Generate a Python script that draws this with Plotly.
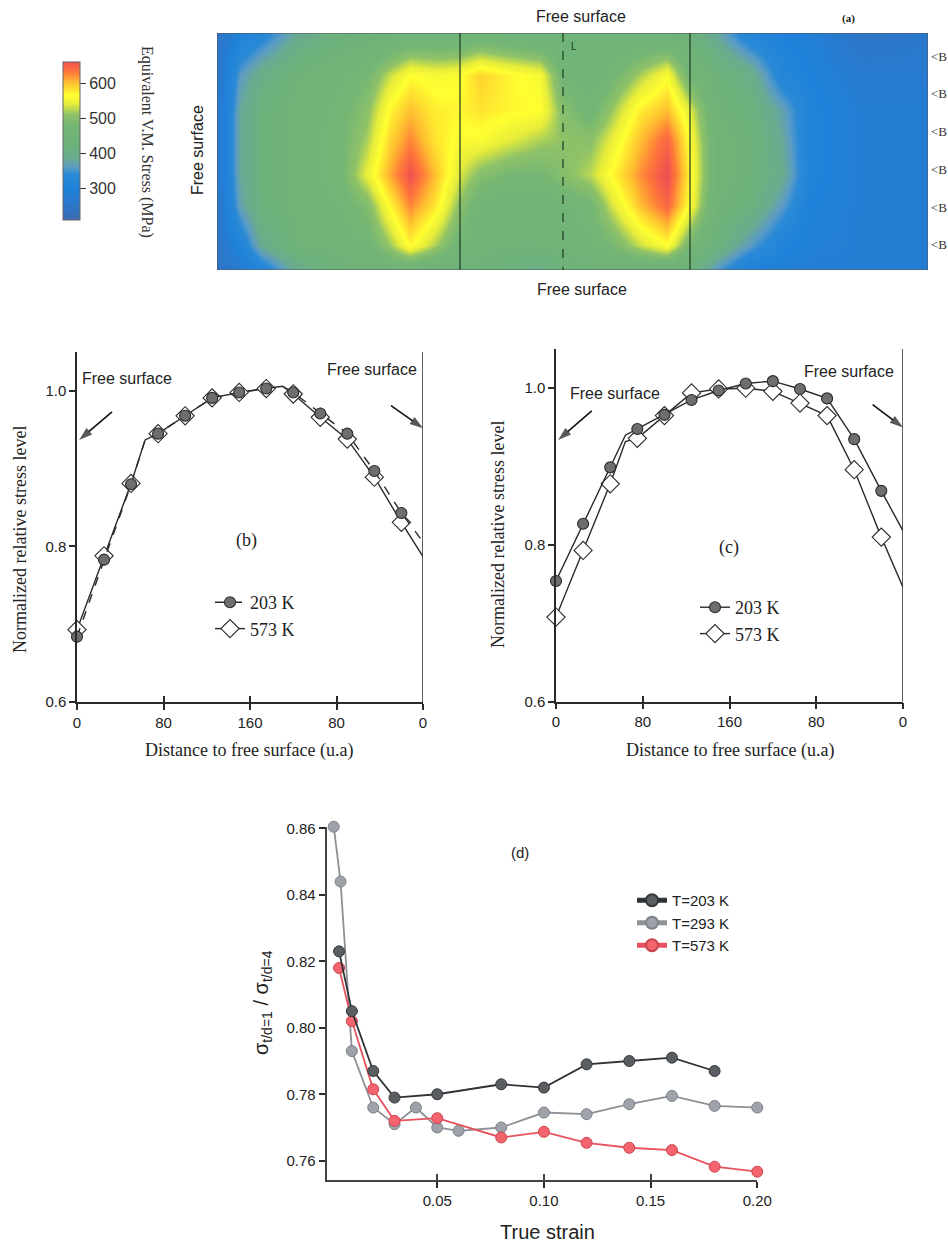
import plotly.graph_objects as go

W, H = 948, 1247
SANS = "Liberation Sans"
SERIF = "Liberation Serif"


def fx(p):
    return p / W


def fy(p):
    return 1 - p / H


# ---------------- Panel (a): stress map ----------------
heat_x = [2, 23, 45, 83, 123, 150, 173, 193, 218, 241, 263, 293, 323, 346, 373,
          393, 423, 450, 473, 500, 533, 565, 593, 643, 709]
heat_y = [3, 42, 77, 107, 142, 172, 212, 235]
heat_z = [
    [250, 300, 330, 390, 420, 430, 440, 450, 450, 450, 460, 450, 440, 440, 440, 440, 440, 440, 430, 380, 320, 300, 290, 250, 260],
    [260, 360, 400, 440, 460, 480, 530, 565, 555, 560, 590, 570, 555, 470, 450, 470, 520, 560, 470, 430, 400, 320, 300, 270, 270],
    [270, 380, 420, 450, 470, 505, 570, 600, 575, 570, 580, 570, 565, 500, 470, 510, 575, 600, 540, 440, 420, 370, 310, 280, 280],
    [270, 380, 420, 450, 475, 520, 590, 625, 580, 560, 560, 540, 520, 510, 505, 540, 600, 645, 560, 450, 430, 380, 310, 280, 280],
    [270, 380, 420, 450, 475, 545, 610, 660, 600, 540, 500, 480, 480, 500, 525, 565, 620, 665, 570, 450, 430, 390, 310, 280, 280],
    [260, 370, 420, 450, 465, 495, 570, 625, 580, 510, 460, 450, 450, 460, 475, 530, 600, 645, 560, 440, 420, 360, 300, 280, 280],
    [250, 310, 390, 440, 450, 465, 515, 570, 520, 470, 450, 440, 440, 450, 460, 480, 530, 565, 480, 420, 360, 310, 290, 280, 280],
    [250, 270, 320, 400, 430, 440, 450, 450, 440, 430, 430, 420, 400, 430, 430, 440, 440, 440, 420, 360, 300, 290, 280, 280, 280],
]
stress_min, stress_max = 210, 660
cbar_ticks = [300, 400, 500, 600]
section_x = [243, 346, 473]
section_dash = ["solid", "dash", "solid"]
bmark_y = [24, 61, 98, 136, 174, 211]

stress_colors = [
    [0.000, "#3a6ab0"], [0.111, "#2a78cc"], [0.200, "#1f82da"], [0.289, "#2b8ad6"],
    [0.333, "#5c9cc4"], [0.389, "#6aab90"], [0.467, "#6cb17c"], [0.600, "#74b674"],
    [0.667, "#8fc268"], [0.733, "#e6ec3a"], [0.789, "#ffff30"], [0.867, "#ffc030"],
    [0.933, "#ff7a3a"], [1.000, "#f05050"],
]

# ---------------- Panels (b) and (c) ----------------
dist_ticks = [0, 80, 160, 240, 320]
dist_labels = ["0", "80", "160", "80", "0"]
level_ticks = [0.6, 0.8, 1.0]
level_labels = ["0.6", "0.8", "1.0"]

b_u = [0, 25, 50, 75, 100, 125, 150, 175, 200, 225, 250, 275, 300]
b_203 = [0.684, 0.783, 0.880, 0.945, 0.968, 0.991, 0.998, 1.003, 0.998, 0.971, 0.945, 0.897, 0.843]
b_573 = [0.693, 0.788, 0.881, 0.945, 0.968, 0.991, 0.998, 1.003, 0.996, 0.966, 0.938, 0.889, 0.831]
b_line_u = [0, 25, 50, 63, 75, 100, 125, 150, 175, 190, 200, 225, 250, 275, 300, 320]
b_line_203 = [0.684, 0.783, 0.880, 0.937, 0.945, 0.968, 0.991, 0.998, 1.003, 1.006, 0.998, 0.971, 0.945, 0.897, 0.843, 0.806]
b_line_573 = [0.693, 0.788, 0.881, 0.937, 0.945, 0.968, 0.991, 0.998, 1.003, 1.006, 0.996, 0.966, 0.938, 0.889, 0.831, 0.787]

c_u = [0, 25, 50, 75, 100, 125, 150, 175, 200, 225, 250, 275, 300]
c_203 = [0.754, 0.827, 0.899, 0.948, 0.966, 0.985, 0.997, 1.006, 1.009, 0.999, 0.987, 0.935, 0.869]
c_573 = [0.708, 0.793, 0.878, 0.936, 0.965, 0.994, 0.999, 1.000, 0.996, 0.981, 0.965, 0.896, 0.810]
c_line_u = [0, 25, 50, 64, 75, 100, 125, 150, 175, 200, 225, 250, 275, 300, 320]
c_line_203 = [0.754, 0.827, 0.899, 0.940, 0.948, 0.966, 0.985, 0.997, 1.006, 1.009, 0.999, 0.987, 0.935, 0.869, 0.818]
c_line_573 = [0.708, 0.793, 0.878, 0.932, 0.936, 0.965, 0.994, 0.999, 1.000, 0.996, 0.981, 0.965, 0.896, 0.810, 0.746]

# "free surface" pointer arrows (tail -> head) in the (b)/(c) data units
arrow_b_u = [[32.4, 2.0], [290.4, 320.0]]
arrow_b_v = [[0.973, 0.937], [0.981, 0.952]]
arrow_c_u = [[33.0, 2.0], [292.0, 320.0]]
arrow_c_v = [[0.971, 0.934], [0.979, 0.950]]

# ---------------- Panel (d) ----------------
d_x_203 = [0.004, 0.010, 0.020, 0.030, 0.050, 0.080, 0.100, 0.120, 0.140, 0.160, 0.180]
d_y_203 = [0.823, 0.805, 0.787, 0.779, 0.780, 0.783, 0.782, 0.789, 0.790, 0.791, 0.787]
d_x_293 = [0.0015, 0.0047, 0.010, 0.020, 0.030, 0.040, 0.050, 0.060, 0.080, 0.100, 0.120, 0.140, 0.160, 0.180, 0.200]
d_y_293 = [0.8605, 0.844, 0.793, 0.776, 0.771, 0.776, 0.770, 0.769, 0.770, 0.7745, 0.774, 0.777, 0.7795, 0.7765, 0.776]
d_x_573 = [0.004, 0.010, 0.020, 0.030, 0.050, 0.080, 0.100, 0.120, 0.140, 0.160, 0.180, 0.200]
d_y_573 = [0.818, 0.802, 0.7815, 0.772, 0.7728, 0.767, 0.7687, 0.7654, 0.7639, 0.7632, 0.7582, 0.7567]
strain_ticks = [0.05, 0.10, 0.15, 0.20]
ratio_ticks = [0.76, 0.78, 0.80, 0.82, 0.84, 0.86]

fig = go.Figure()

# ---- heatmap ----
fig.add_trace(go.Heatmap(
    x=heat_x, y=heat_y, z=heat_z, zsmooth="best", zmin=stress_min, zmax=stress_max,
    colorscale=stress_colors, xaxis="x", yaxis="y", hoverinfo="skip",
    colorbar=dict(x=fx(63), xanchor="left", y=fy(62), yanchor="top",
                  len=158 / H, lenmode="fraction", thickness=17, thicknessmode="pixels",
                  outlinewidth=1, outlinecolor="#666", ticks="outside", ticklen=6,
                  tickcolor="#333", tickvals=cbar_ticks, xpad=0, ypad=0,
                  tickfont=dict(family=SANS, size=16, color="#333")),
))

INK = "#2a2a2a"


def add_profile(xa, ya, line_u, line_v, mu, mv, dash, symbol, fill, size, legend, name):
    fig.add_trace(go.Scatter(x=line_u, y=line_v, mode="lines", xaxis=xa, yaxis=ya,
                             line=dict(color=INK, width=1.4, dash=dash),
                             showlegend=False, hoverinfo="skip", cliponaxis=False))
    fig.add_trace(go.Scatter(x=mu, y=mv, mode="markers", xaxis=xa, yaxis=ya,
                             marker=dict(symbol=symbol, size=size, color=fill,
                                         line=dict(color=INK, width=1.1)),
                             showlegend=False, hoverinfo="skip", cliponaxis=False))
    fig.add_trace(go.Scatter(x=[None], y=[None], mode="lines+markers", xaxis=xa, yaxis=ya,
                             line=dict(color=INK, width=1.4, dash=dash),
                             marker=dict(symbol=symbol, size=size, color=fill,
                                         line=dict(color=INK, width=1.1)),
                             name=name, legend=legend, showlegend=True))


def add_arrows(xa, ya, us, vs):
    for u, v in zip(us, vs):
        fig.add_trace(go.Scatter(x=u, y=v, mode="lines+markers", xaxis=xa, yaxis=ya,
                                 line=dict(color="#111", width=1.6),
                                 marker=dict(symbol="arrow", size=[0, 14], angleref="previous",
                                             color="#111", line=dict(width=0)),
                                 showlegend=False, hoverinfo="skip", cliponaxis=False))


# panel b: 573 K under 203 K
add_profile("x2", "y2", b_line_u, b_line_573, b_u, b_573, "solid", "diamond", "white", 14, "legend2", "573 K")
add_profile("x2", "y2", b_line_u, b_line_203, b_u, b_203, "dash", "circle", "#6e6e6e", 11, "legend2", "203 K")
add_arrows("x2", "y2", arrow_b_u, arrow_b_v)
# panel c
add_profile("x3", "y3", c_line_u, c_line_573, c_u, c_573, "solid", "diamond", "white", 14, "legend3", "573 K")
add_profile("x3", "y3", c_line_u, c_line_203, c_u, c_203, "solid", "circle", "#6e6e6e", 11, "legend3", "203 K")
add_arrows("x3", "y3", arrow_c_u, arrow_c_v)

# panel d
d_series = [
    ("T=293 K", d_x_293, d_y_293, "#8c9097", "#9ea2a9", "#7d8188", 2),
    ("T=573 K", d_x_573, d_y_573, "#e8525c", "#f4646e", "#c9444e", 3),
    ("T=203 K", d_x_203, d_y_203, "#2f3236", "#5a5e63", "#35383c", 1),
]
for name, xs, ys, lc, mc, ml, rank in d_series:
    fig.add_trace(go.Scatter(x=xs, y=ys, mode="lines+markers", name=name, xaxis="x4", yaxis="y4",
                             line=dict(color=lc, width=1.8),
                             marker=dict(size=11, color=mc, line=dict(color=ml, width=1)),
                             legendrank=rank, cliponaxis=False, legend="legend"))

# dummy traces for crossing tick overlays
for xa, ya in [("x5", "y2"), ("x6", "y3"), ("x7", "y4")]:
    fig.add_trace(go.Scatter(x=[None], y=[None], xaxis=xa, yaxis=ya, showlegend=False, hoverinfo="skip"))

tickfont = dict(family=SANS, size=15, color="#222")
axis_common = dict(showline=True, linecolor=INK, linewidth=1.5, ticks="outside", ticklen=6,
                   tickcolor=INK, tickwidth=1.5, showgrid=False, zeroline=False, tickfont=tickfont,
                   automargin=False)
overlay_common = dict(ticks="inside", ticklen=6, tickwidth=1.5, showticklabels=False,
                      showline=False, showgrid=False, zeroline=False, automargin=False)

b_dom_x = [fx(77), fx(423)]
c_dom_x = [fx(556), fx(903)]
d_dom_x = [fx(326.7), fx(757.3)]

fig.update_layout(
    width=W, height=H, margin=dict(l=0, r=0, t=0, b=0, pad=0, autoexpand=False),
    paper_bgcolor="white", plot_bgcolor="rgba(0,0,0,0)",
    xaxis=dict(domain=[fx(217), fx(928)], range=[0, 711], visible=False, anchor="y", automargin=False),
    yaxis=dict(domain=[fy(270), fy(33)], range=[237, 0], visible=False, anchor="x", automargin=False),
    xaxis2=dict(domain=b_dom_x, range=[0, 320], anchor="y2", tickvals=dist_ticks,
                ticktext=dist_labels, **axis_common),
    yaxis2=dict(domain=[fy(702), fy(352)], range=[0.6, 1.05], anchor="x2", tickvals=level_ticks,
                ticktext=level_labels, **axis_common),
    xaxis3=dict(domain=c_dom_x, range=[0, 320], anchor="y3", tickvals=dist_ticks,
                ticktext=dist_labels, **axis_common),
    yaxis3=dict(domain=[fy(701.7), fy(349)], range=[0.6, 1.05], anchor="x3", tickvals=level_ticks,
                ticktext=level_labels, **axis_common),
    xaxis4=dict(domain=d_dom_x, range=[-0.0018, 0.20], anchor="y4", tickvals=strain_ticks,
                tickformat=".2f", **{**axis_common, "linecolor": "#444", "linewidth": 2}),
    yaxis4=dict(domain=[fy(1180), fy(826.7)], range=[0.7542, 0.8605], anchor="x4",
                tickvals=ratio_ticks, tickformat=".2f",
                **{**axis_common, "linecolor": "#444", "linewidth": 2}),
    xaxis5=dict(overlaying="x2", anchor="y2", range=[0, 320], tickvals=dist_ticks,
                tickcolor=INK, **overlay_common),
    xaxis6=dict(overlaying="x3", anchor="y3", range=[0, 320], tickvals=dist_ticks,
                tickcolor=INK, **overlay_common),
    xaxis7=dict(overlaying="x4", anchor="y4", range=[-0.0018, 0.20], tickvals=strain_ticks,
                tickcolor="#444", **overlay_common),
    legend=dict(x=fx(632), y=fy(884), xanchor="left", yanchor="top", bgcolor="rgba(0,0,0,0)",
                font=dict(family=SANS, size=15, color="#222"), tracegroupgap=0,
                itemsizing="constant"),
    legend2=dict(x=fx(210), y=fy(584), xanchor="left", yanchor="top", bgcolor="rgba(0,0,0,0)",
                 font=dict(family=SERIF, size=18, color="#222"), traceorder="reversed"),
    legend3=dict(x=fx(695), y=fy(589), xanchor="left", yanchor="top", bgcolor="rgba(0,0,0,0)",
                 font=dict(family=SERIF, size=18, color="#222"), traceorder="reversed"),
    showlegend=True,
)

shapes = []
# heatmap frame
shapes.append(dict(type="rect", xref="x", yref="y", x0=0, x1=711, y0=0, y1=237,
                   line=dict(color="#555", width=1)))
for sx, sd in zip(section_x, section_dash):
    shapes.append(dict(type="line", xref="x", yref="y", x0=sx, x1=sx, y0=0, y1=237,
                       line=dict(color="#1d3a24", width=1.2, dash=sd)))
# right-hand free-surface lines in b and c
for xa, ya in [("x2", "y2"), ("x3", "y3")]:
    shapes.append(dict(type="line", xref=xa, yref=ya, x0=320, x1=320, y0=0.6, y1=1.05,
                       line=dict(color=INK, width=1.5)))
fig.update_layout(shapes=shapes)

ann = []


def text(x, y, t, size, family=SANS, angle=0, color="#222", **kw):
    ann.append(dict(x=fx(x), y=fy(y), xref="paper", yref="paper", text=t, showarrow=False,
                    font=dict(family=family, size=size, color=color), textangle=angle,
                    xanchor="center", yanchor="middle", **kw))


# panel a texts
text(581, 17, "Free surface", 16)
text(582, 290, "Free surface", 16)
text(197, 150, "Free surface", 16, angle=-90)
text(848, 19, "<b>(a)</b>", 11, family=SERIF)
text(147, 142, "Equivalent V.M. Stress (MPa)", 16, family=SERIF, angle=90, color="#333")
ann.append(dict(x=352, y=14, xref="x", yref="y", text="L", showarrow=False,
                font=dict(family=SANS, size=10, color="#1d3a24"), xanchor="left"))
for by in bmark_y:
    ann.append(dict(x=fx(930), y=by, xref="paper", yref="y", text="&lt;B", showarrow=False,
                    font=dict(family=SERIF, size=13, color="#333"), xanchor="left",
                    borderpad=0))

# panel b texts
text(127, 378, "Free surface", 16)
text(372, 370, "Free surface", 16)
text(247, 540, "(b)", 18, family=SERIF)
text(249, 750, "Distance to free surface (u.a)", 18, family=SERIF)
text(20, 540, "Normalized relative stress level", 18, family=SERIF, angle=-90)
# panel c texts
text(615, 393, "Free surface", 16)
text(849, 372, "Free surface", 16)
text(729, 548, "(c)", 18, family=SERIF)
text(730, 750, "Distance to free surface (u.a)", 18, family=SERIF)
text(498, 535, "Normalized relative stress level", 18, family=SERIF, angle=-90)
# panel d texts
text(520, 852, "(d)", 15)
text(547, 1232, "True strain", 20)
text(263, 1003, "σ<sub>t/d=1</sub> / σ<sub>t/d=4</sub>", 20, angle=-90)

fig.update_layout(annotations=ann)
fig.write_html("out.html")
